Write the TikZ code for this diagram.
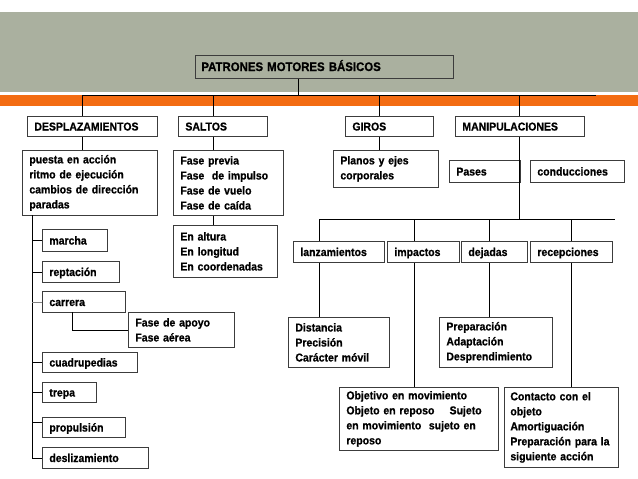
\documentclass[tikz,border=0pt]{standalone}
\usepackage{fontspec}
\setmainfont{Liberation Sans}[FakeStretch=0.92, BoldFeatures={FakeBold=0.8}]
\definecolor{bandgray}{HTML}{AAB09F}
\definecolor{bandorange}{HTML}{F36C12}
\definecolor{boxline}{HTML}{3C3C3C}
\begin{document}
\begin{tikzpicture}[x=1pt,y=-1pt,
  every node/.style={font=\fontsize{11.4}{15}\selectfont\bfseries},
  bx/.style={draw=boxline, line width=0.8pt, anchor=north west, inner xsep=7pt, inner ysep=0pt, align=left},
  one/.style={text height=9pt, text depth=0.8pt},
  conn/.style={draw=black, line width=0.8pt}]
\useasboundingbox (0,0) rectangle (638,479);
\fill[white] (0,0) rectangle (638,479);
\fill[bandgray] (0,12) rectangle (638,92);
\fill[bandorange] (0,95) rectangle (638,106);

% level 1
\node[bx, one, text width=246pt, minimum height=23pt, inner xsep=6pt, font=\fontsize{12.4}{15}\selectfont\bfseries] (pat) at (195,55) {PATRONES MOTORES BÁSICOS};

% level 2
\node[bx, one, text width=116pt, minimum height=20pt] (desp) at (27,116) {DESPLAZAMIENTOS};
\node[bx, one, text width=75pt, minimum height=20pt] (saltos) at (178,116) {SALTOS};
\node[bx, one, text width=74pt, minimum height=20pt] (giros) at (345,116) {GIROS};
\node[bx, one, text width=115pt, minimum height=20pt] (manip) at (455,116) {MANIPULACIONES};

% level 3
\node[bx, text width=121pt, minimum height=65pt] (puesta) at (22,150) {puesta en acción\\ritmo de ejecución\\cambios de dirección\\paradas};
\node[bx, text width=96pt, minimum height=65pt] (fase) at (173,150) {Fase previa\\Fase\ \ de impulso\\Fase de vuelo\\Fase de caída};
\node[bx, text width=91pt, minimum height=37pt] (planos) at (333,150) {Planos y ejes\\corporales};
\node[bx, one, text width=57pt, minimum height=22pt] (pases) at (449,160) {Pases};
\node[bx, one, text width=80pt, minimum height=22pt] (cond) at (530,160) {conducciones};
\node[bx, text width=90pt, minimum height=52pt] (altura) at (173,225) {En altura\\En longitud\\En coordenadas};

% desplazamientos list
\node[bx, one, text width=51pt, minimum height=22pt] (marcha) at (42,229) {marcha};
\node[bx, one, text width=63pt, minimum height=21pt] (rept) at (42,261) {reptación};
\node[bx, one, text width=69pt, minimum height=21pt] (carrera) at (42,291) {carrera};
\node[bx, text width=92pt, minimum height=35pt] (apoyo) at (128,312) {Fase de apoyo\\Fase aérea};
\node[bx, one, text width=81pt, minimum height=20pt] (cuad) at (42,352) {cuadrupedias};
\node[bx, one, text width=40pt, minimum height=20pt] (trepa) at (42,382) {trepa};
\node[bx, one, text width=69pt, minimum height=20pt] (prop) at (42,417) {propulsión};
\node[bx, one, text width=92pt, minimum height=21pt] (desl) at (42,447) {deslizamiento};

% manipulaciones
\node[bx, one, text width=77pt, minimum height=21pt] (lanz) at (293,241) {lanzamientos};
\node[bx, one, text width=58pt, minimum height=21pt] (imp) at (387,241) {impactos};
\node[bx, one, text width=52pt, minimum height=21pt] (dej) at (461,241) {dejadas};
\node[bx, one, text width=68pt, minimum height=21pt] (rec) at (530,241) {recepciones};
\node[bx, text width=87pt, minimum height=50pt] (dist) at (288,317) {Distancia\\Precisión\\Carácter móvil};
\node[bx, text width=99pt, minimum height=50pt] (prep) at (439,317) {Preparación\\Adaptación\\Desprendimiento};
\node[bx, text width=145pt, minimum height=63pt] (obj) at (339,387) {Objetivo en movimiento\\Objeto en reposo\ \ \ \ Sujeto\\en movimiento\ \ sujeto en\\reposo};
\node[bx, text width=102pt, inner xsep=6pt, minimum height=80pt] (cont) at (504,387) {Contacto con el\\objeto\\Amortiguación\\Preparación para la\\siguiente acción};

% bus coordinates
\coordinate (busL) at (82,95);
\coordinate (busR) at (596,95);
\coordinate (bP) at (298,95);
\coordinate (bS) at (213,95);
\coordinate (bG) at (379,95);
\coordinate (bM) at (519,95);
\coordinate (bus2L) at (319,219);
\coordinate (bus2R) at (615,219);
\coordinate (b2I) at (414,219);
\coordinate (b2D) at (489,219);
\coordinate (b2R) at (571,219);
\coordinate (spine) at (32,215);
\coordinate (cbr) at (72,312);

% top connectors
\draw[conn] (bP |- pat.south) -- (bP);
\draw[conn] (busL) -- (busR);
\draw[conn] (busL) -- (busL |- desp.north);
\draw[conn] (bS) -- (bS |- saltos.north);
\draw[conn] (bG) -- (bG |- giros.north);
\draw[conn] (bM) -- (bM |- manip.north);

\draw[conn] (busL |- desp.south) -- (busL |- puesta.north);
\draw[conn] (bS |- saltos.south) -- (bS |- fase.north);
\draw[conn] (bS |- fase.south) -- (bS |- altura.north);
\draw[conn] (bG |- giros.south) -- (bG |- planos.north);

% manipulaciones tree
\draw[conn] (bM |- manip.south) -- (bM |- bus2L);
\draw[conn] (bus2L) -- (bus2R);
\draw[conn] (bus2L) -- (bus2L |- lanz.north);
\draw[conn] (b2I) -- (b2I |- imp.north);
\draw[conn] (b2D) -- (b2D |- dej.north);
\draw[conn] (b2R) -- (b2R |- rec.north);
\draw[conn] (bus2L |- lanz.south) -- (bus2L |- dist.north);
\draw[conn] (b2I |- imp.south) -- (b2I |- obj.north);
\draw[conn] (b2D |- dej.south) -- (b2D |- prep.north);
\draw[conn] (b2R |- rec.south) -- (b2R |- cont.north);

% desplazamientos spine
\draw[conn] (spine) -- (spine |- desl.west) -- (desl.west);
\draw[conn] (spine |- marcha.west) -- (marcha.west);
\draw[conn] (spine |- rept.west) -- (rept.west);
\draw[draw=gray, line width=0.6pt] (spine |- carrera.west) -- (carrera.west);
\draw[conn] (spine |- cuad.west) -- (cuad.west);
\draw[conn] (spine |- trepa.west) -- (trepa.west);
\coordinate (ptick) at (42,422);
\draw[conn] (spine |- ptick) -- (ptick);
\draw[conn] (cbr) -- (cbr |- apoyo.west) -- (apoyo.west);
\end{tikzpicture}
\end{document}
